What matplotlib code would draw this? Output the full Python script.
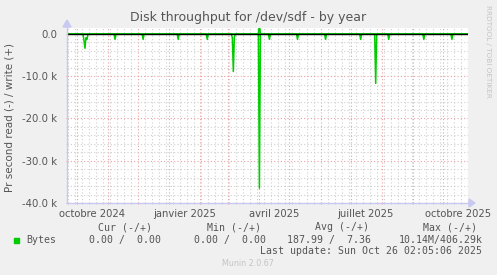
import datetime as dt

import matplotlib
matplotlib.use("Agg")
import matplotlib.pyplot as plt
import matplotlib.dates as mdates
import matplotlib.transforms as mtransforms
import numpy as np

W, H = 497, 275

# graph window: munin "by year" = 400 days ending at last update
end = dt.datetime(2025, 10, 26, 2, 5, 6)
start = end - dt.timedelta(days=400)

# daily averages (bytes/s); reads are drawn negative
read_days = ["2024-10-08", "2024-10-09", "2024-10-10", "2024-10-11",
             "2024-11-08", "2024-12-06", "2025-01-10", "2025-02-08",
             "2025-03-05", "2025-03-06", "2025-03-07", "2025-04-01",
             "2025-04-11", "2025-05-09", "2025-06-06", "2025-07-11",
             "2025-07-26", "2025-08-08", "2025-09-12", "2025-10-10"]
read_bytes = [1500, 3400, 900, 1300,
              1300, 1300, 1300, 1300,
              900, 8900, 800, 36500,
              1300, 1300, 1300, 1300,
              11700, 1300, 1300, 1300]
write_days = ["2025-04-01"]
write_bytes = [2500]

tick_labels = ["octobre 2024", "janvier 2025", "avril 2025",
               "juillet 2025", "octobre 2025"]
label_months = ["2024-10-01", "2025-01-01", "2025-04-01",
                "2025-07-01", "2025-10-01"]
ytick_vals = [0, -10000, -20000, -30000, -40000]
ytick_labels = ["0.0", "-10.0 k", "-20.0 k", "-30.0 k", "-40.0 k"]

legend_head = ["Cur (-/+)", "Min (-/+)", "Avg (-/+)", "Max (-/+)"]
legend_vals = ["0.00 /  0.00", "0.00 /  0.00", "187.99 /  7.36", "10.14M/406.29k"]

# build daily series
days = np.arange(np.datetime64(start.date()), np.datetime64(end.date()) + 1)
read = np.zeros(len(days))
write = np.zeros(len(days))
for d, v in zip(read_days, read_bytes):
    read[days == np.datetime64(d)] = v
for d, v in zip(write_days, write_bytes):
    write[days == np.datetime64(d)] = v
xs = mdates.date2num(days.astype("datetime64[s]").astype(dt.datetime))

txt = "#555555"
fig = plt.figure(figsize=(W / 100, H / 100), dpi=100, facecolor="#f0f0f0")
ax = fig.add_axes([67 / W, 1 - 203 / H, (468 - 67) / W, (203 - 28) / H])
ax.set_facecolor("white")

ax.plot(xs, -read, color="#00cc00", lw=1.1, zorder=3)
ax.plot(xs, write, color="#00cc00", lw=1.1, zorder=3)
ax.axhline(0, color="black", lw=1.0, zorder=4)

ax.set_xlim(mdates.date2num(start), mdates.date2num(end))
ax.set_ylim(-40000, 1400)

# grid: weekly minor, monthly major
ax.xaxis.set_minor_locator(mdates.WeekdayLocator(byweekday=mdates.SU))
ax.xaxis.set_major_locator(mdates.MonthLocator())
ax.set_xticklabels([])
ax.yaxis.set_major_locator(plt.FixedLocator(ytick_vals))
ax.yaxis.set_minor_locator(plt.MultipleLocator(2000))
ax.set_yticklabels(ytick_labels)
ax.grid(which="minor", color="#cfcfcf", ls=(0, (1, 2)), lw=0.8)
ax.grid(which="major", color="#eea0a0", ls=(0, (1, 2)), lw=0.8)
ax.tick_params(which="major", axis="x", length=2, color="#eea0a0", direction="inout")
ax.tick_params(which="minor", axis="x", length=2, color="#cccccc", direction="inout")
ax.tick_params(which="both", axis="y", length=2, color="#eea0a0", direction="inout")
ax.tick_params(which="minor", axis="y", color="#cccccc")
ax.tick_params(axis="y", labelsize=7.3, labelcolor=txt, pad=6)
for s in ax.spines.values():
    s.set_visible(False)

# month labels sit in the middle of their month
shift = mtransforms.ScaledTranslation(0, -4 / 72, fig.dpi_scale_trans)
for lab, m in zip(tick_labels, label_months):
    mid = mdates.date2num(dt.datetime.fromisoformat(m)) + 15
    ax.text(mid, 0, lab, transform=mtransforms.blended_transform_factory(ax.transData, ax.transAxes) + shift,
            ha="center", va="top", fontsize=7.2, color=txt)

# axis arrows
axcol = "#c8c8f0"
fig.add_artist(plt.Line2D([67 / W, 67 / W], [1 - 203 / H, 1 - 24 / H], color=axcol, lw=1))
fig.add_artist(plt.Line2D([67 / W, 470 / W], [1 - 203 / H, 1 - 203 / H], color=axcol, lw=1))
fig.add_artist(plt.Polygon([[63 / W, 1 - 27 / H], [71 / W, 1 - 27 / H], [67 / W, 1 - 20 / H]],
                           closed=True, color=axcol))
fig.add_artist(plt.Polygon([[469 / W, 1 - 199 / H], [469 / W, 1 - 207 / H], [475 / W, 1 - 203 / H]],
                           closed=True, color=axcol))

def ptext(x, y, s, **kw):
    fig.text(x / W, 1 - y / H, s, **kw)

ptext(248.5, 18, "Disk throughput for /dev/sdf - by year", ha="center", va="center",
      fontsize=9.0, color=txt)
ptext(10, 118, "Pr second read (-) / write (+)", ha="center", va="center",
      rotation=90, fontsize=7.5, color=txt)
ptext(488, 5, "RRDTOOL / TOBI OETIKER", ha="center", va="top", rotation=270,
      fontsize=5.2, color="#c4c4c4")

mono = dict(family="DejaVu Sans Mono", fontsize=7.1, color=txt, va="center", ha="left")
for s, x in zip(legend_head, [98, 206.7, 315, 422.7]):
    ptext(x, 227.5, s, **mono)
fig.add_artist(plt.Rectangle((14 / W, 1 - 243 / H), 5 / W, 5 / H, color="#00cc00"))
ptext(26.7, 240, "Bytes", **mono)
for s, x in zip(legend_vals, [89, 194.3, 287.3, 398.3]):
    ptext(x, 240, s, **mono)
ptext(482.5, 251.5, "Last update: Sun Oct 26 02:05:06 2025", **dict(mono, ha="right"))
ptext(248, 264, "Munin 2.0.67", ha="center", va="center", fontsize=5.8, color="#c4c4c4")

fig.savefig("out.png", dpi=100, facecolor=fig.get_facecolor())
